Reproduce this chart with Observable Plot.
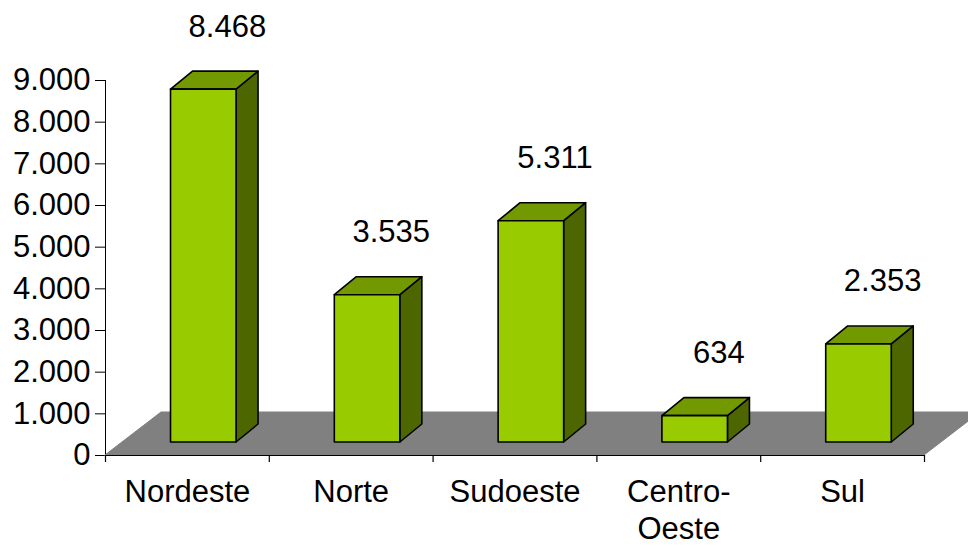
<!DOCTYPE html>
<html>
<head>
<meta charset="utf-8">
<script src="https://cdn.jsdelivr.net/npm/d3@7"></script>
<script src="https://cdn.jsdelivr.net/npm/@observablehq/plot@0.6"></script>
<style>
  html, body { margin: 0; padding: 0; background: #ffffff; }
  #chart { width: 968px; height: 546px; overflow: hidden; }
</style>
</head>
<body>
<div id="chart"></div>
<script>
// ---- data ----
const categories = ["Nordeste", "Norte", "Sudoeste", "Centro-\nOeste", "Sul"];
const values = [8468, 3535, 5311, 634, 2353];
const yTicks = [0, 1000, 2000, 3000, 4000, 5000, 6000, 7000, 8000, 9000];

// ---- layout ----
const W = 968, H = 546;
const ML = 105, MR = 44, MT = 80, MB = 91;
const yMax = 9000;
const pxX = (W - ML - MR) / categories.length; // px per category unit
const pxY = (H - MT - MB) / yMax;              // px per value unit
const ux = p => p / pxX;
const uy = p => p / pxY;

// 3D geometry (pixels converted to data units)
const FRONT_Y = uy(13);                      // bar front plane lifted above floor front edge
const BAR_DX = ux(22), BAR_DY = uy(18);      // bar depth
const FLOOR_DX = ux(56), FLOOR_DY = uy(43);  // floor depth
const BAR_X0 = 0.4, BAR_X1 = 0.8;            // front face within category band

const ptBR = d3.formatLocale({decimal: ",", thousands: ".", grouping: [3], currency: ["R$ ", ""]});
const fmt = ptBR.format(",d");

const bars = categories.map((c, i) => ({cat: c, i, v: values[i]}));

const floor = [
  {y: 0, x1: 0, x2: categories.length},
  {y: FLOOR_DY, x1: FLOOR_DX, x2: categories.length + FLOOR_DX}
];

const sides = bars.flatMap(d => [
  {cat: d.cat, x: d.i + BAR_X1, y1: FRONT_Y, y2: d.v + FRONT_Y},
  {cat: d.cat, x: d.i + BAR_X1 + BAR_DX, y1: FRONT_Y + BAR_DY, y2: d.v + FRONT_Y + BAR_DY}
]);

const tops = bars.flatMap(d => [
  {cat: d.cat, y: d.v + FRONT_Y, x1: d.i + BAR_X0, x2: d.i + BAR_X1},
  {cat: d.cat, y: d.v + FRONT_Y + BAR_DY, x1: d.i + BAR_X0 + BAR_DX, x2: d.i + BAR_X1 + BAR_DX}
]);

const xTicks = d3.range(0, categories.length + 1);

const font = "'Liberation Sans', Arial, sans-serif";
const FS = 31;

const chart = Plot.plot({
  width: W,
  height: H,
  marginLeft: ML,
  marginRight: MR,
  marginTop: MT,
  marginBottom: MB,
  style: {fontFamily: font, fontSize: FS + "px", background: "#ffffff", color: "#000000", overflow: "visible"},
  x: {type: "linear", domain: [0, categories.length], axis: null},
  y: {
    domain: [0, yMax],
    ticks: yTicks,
    tickFormat: fmt,
    tickSize: 10,
    tickPadding: 5,
    line: true,
    label: null
  },
  marks: [
    // floor
    Plot.areaX(floor, {y: "y", x1: "x1", x2: "x2", fill: "#808080", stroke: "#808080", strokeWidth: 1}),
    // x axis line and ticks
    Plot.ruleY([0], {x1: 0, x2: categories.length, stroke: "#000000", strokeWidth: 1.2}),
    Plot.ruleX(xTicks, {x: d => d, y1: 0, y2: -uy(7), stroke: "#000000", strokeWidth: 1.2}),
    // bar side faces
    Plot.areaY(sides, {x: "x", y1: "y1", y2: "y2", z: "cat", fill: "#4d6600", stroke: "#000000", strokeWidth: 1.6, strokeLinejoin: "round"}),
    // bar top faces
    Plot.areaX(tops, {y: "y", x1: "x1", x2: "x2", z: "cat", fill: "#739900", stroke: "#000000", strokeWidth: 1.6, strokeLinejoin: "round"}),
    // bar front faces
    Plot.rect(bars, {x1: d => d.i + BAR_X0, x2: d => d.i + BAR_X1, y1: FRONT_Y, y2: d => d.v + FRONT_Y, fill: "#99cc00", stroke: "#000000", strokeWidth: 1.6, strokeLinejoin: "round"}),
    // value labels
    Plot.text(bars, {x: d => d.i + 0.5, y: "v", text: d => fmt(d.v), dx: 40, dy: -76, fontSize: FS, fill: "#000000"}),
    // category labels
    Plot.text(bars, {x: d => d.i + 0.5, y: 0, text: "cat", dy: 21, lineAnchor: "top", lineHeight: 1.18, fontSize: FS, fill: "#000000"})
  ]
});

document.getElementById("chart").appendChild(chart);
</script>
</body>
</html>
